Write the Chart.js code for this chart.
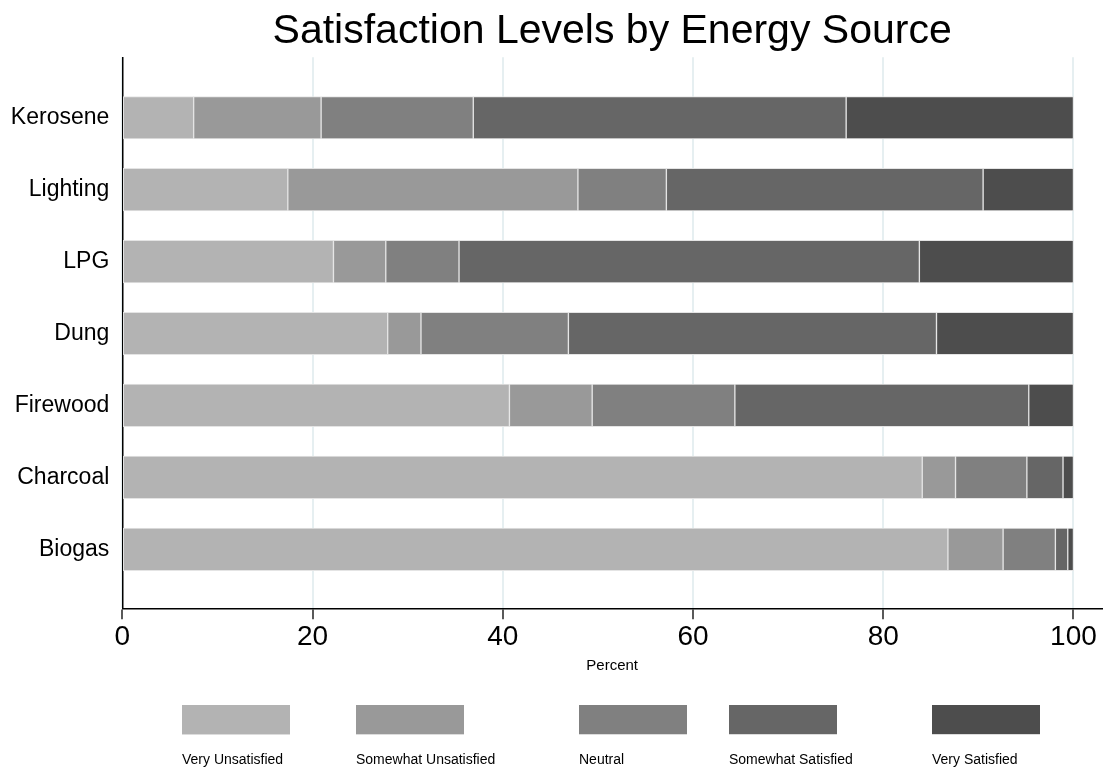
<!DOCTYPE html>
<html>
<head>
<meta charset="utf-8">
<title>Satisfaction Levels by Energy Source</title>
<script src="https://cdn.jsdelivr.net/npm/chart.js@4.4.1/dist/chart.umd.min.js"></script>
<style>
  body { margin: 0; background: #fff; }
  #wrap { width: 1105px; height: 775px; }
</style>
</head>
<body>
<div id="wrap"><canvas id="satisfaccionChart" width="1105" height="775"></canvas></div>
<script>
// categorias (de arriba hacia abajo)
const categories = ['Kerosene', 'Lighting', 'LPG', 'Dung', 'Firewood', 'Charcoal', 'Biogas'];
const levels = ['Very Unsatisfied', 'Somewhat Unsatisfied', 'Neutral', 'Somewhat Satisfied', 'Very Satisfied'];

// porcentajes por nivel
const veryUnsatisfied     = [7.5, 17.4, 22.2, 27.9, 40.7, 84.1, 86.8];
const somewhatUnsatisfied = [13.4, 30.5, 5.5, 3.5, 8.7, 3.5, 5.8];
const neutral             = [16.0, 9.3, 7.7, 15.5, 15.0, 7.5, 5.5];
const somewhatSatisfied   = [39.2, 33.3, 48.4, 38.7, 30.9, 3.8, 1.3];
const verySatisfied       = [23.9, 9.5, 16.2, 14.4, 4.7, 1.1, 0.6];

const xTicks = [0, 20, 40, 60, 80, 100];

const series = [veryUnsatisfied, somewhatUnsatisfied, neutral, somewhatSatisfied, verySatisfied];
const colores = ['#b3b3b3', '#999999', '#808080', '#666666', '#4d4d4d'];
const FONT = '"Liberation Sans", Arial, Helvetica, sans-serif';

const datasets = series.map((valores, i) => ({
    label: levels[i],
    data: valores.map((v, j) => ({ x: v, y: j })),
    backgroundColor: colores[i],
    borderColor: '#e4e4e4',
    borderWidth: 1,
    borderSkipped: false,
    barThickness: 42.5
}));

// leyenda con la caja arriba del texto
const leyendaAbajo = {
    id: 'leyendaAbajo',
    afterDraw(chart) {
        const ctx = chart.ctx;
        const xs = [182, 356, 579, 729, 932];
        ctx.save();
        chart.data.datasets.forEach((ds, i) => {
            ctx.fillStyle = ds.backgroundColor;
            ctx.fillRect(xs[i], 705, 108, 30);
            ctx.fillStyle = '#dcdcdc';
            ctx.fillRect(xs[i], 734, 108, 1);
            ctx.fillStyle = '#000';
            ctx.font = '14px ' + FONT;
            ctx.textBaseline = 'middle';
            ctx.textAlign = 'left';
            ctx.fillText(ds.label, xs[i], 760);
        });
        ctx.restore();
    }
};

const ctx = document.getElementById('satisfaccionChart').getContext('2d');
const satisfaccionChart = new Chart(ctx, {
    type: 'bar',
    data: { datasets: datasets },
    plugins: [leyendaAbajo],
    options: {
        responsive: false,
        animation: false,
        indexAxis: 'y',
        layout: { padding: { top: 0, left: 0, right: 3, bottom: 100 } },
        plugins: {
            legend: { display: false },
            tooltip: { enabled: false },
            title: {
                display: true,
                fullSize: false,
                text: 'Satisfaction Levels by Energy Source',
                color: '#000',
                font: { family: FONT, size: 41, weight: 'normal', lineHeight: 1.2 },
                padding: { top: 7, bottom: 1.1 }
            }
        },
        scales: {
            x: {
                type: 'linear',
                stacked: true,
                min: 0,
                max: 103,
                afterBuildTicks: (scale) => { scale.ticks = xTicks.map(v => ({ value: v })); },
                afterFit: (scale) => { scale.height = 66.7; },
                ticks: {
                    color: '#000',
                    font: { family: FONT, size: 28 },
                    padding: 1,
                    maxRotation: 0
                },
                grid: {
                    color: '#e6eff1',
                    lineWidth: 2,
                    tickColor: '#000',
                    tickWidth: 1.3,
                    tickLength: 11
                },
                border: { color: '#000', width: 1.5 },
                title: {
                    display: true,
                    text: 'Percent',
                    color: '#000',
                    font: { family: FONT, size: 15 },
                    padding: { top: 0, bottom: 0 }
                }
            },
            y: {
                type: 'linear',
                stacked: true,
                reverse: true,
                offset: false,
                min: -0.84,
                max: 6.82,
                z: 1,
                afterBuildTicks: (scale) => { scale.ticks = categories.map((_, i) => ({ value: i })); },
                afterFit: (scale) => { scale.width = 122.3; },
                ticks: {
                    color: '#000',
                    font: { family: FONT, size: 23 },
                    padding: 13,
                    autoSkip: false,
                    callback: (v) => categories[v]
                },
                grid: { display: false, drawTicks: false },
                border: { color: '#000', width: 1.5 }
            }
        }
    }
});
</script>
</body>
</html>
